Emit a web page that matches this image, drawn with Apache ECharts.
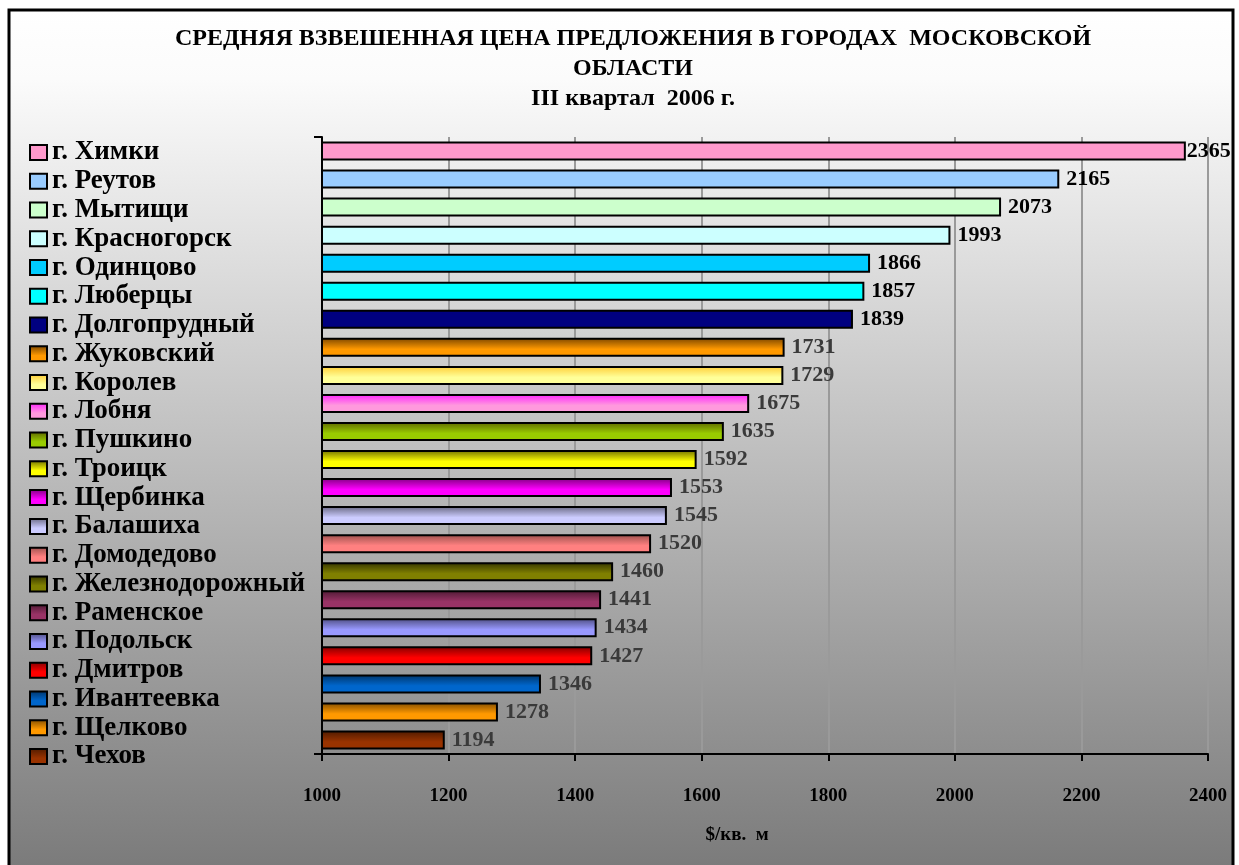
<!DOCTYPE html>
<html><head><meta charset="utf-8">
<script src="https://cdn.jsdelivr.net/npm/echarts@6/dist/echarts.min.js"></script>
<style>html,body{margin:0;padding:0;background:#fff}#c{width:1239px;height:865px}</style>
</head><body><div id="c"></div>
<script>
const cities = ['г. Химки','г. Реутов','г. Мытищи','г. Красногорск','г. Одинцово','г. Люберцы','г. Долгопрудный','г. Жуковский','г. Королев','г. Лобня','г. Пушкино','г. Троицк','г. Щербинка','г. Балашиха','г. Домодедово','г. Железнодорожный','г. Раменское','г. Подольск','г. Дмитров','г. Ивантеевка','г. Щелково','г. Чехов'];
const prices = [2365,2165,2073,1993,1866,1857,1839,1731,1729,1675,1635,1592,1553,1545,1520,1460,1441,1434,1427,1346,1278,1194];
// [top colour, main colour]
const barColors = [
  ['#ff99cc','#ff99cc'],['#99ccff','#99ccff'],['#ccffcc','#ccffcc'],['#ccffff','#ccffff'],
  ['#00ccff','#00ccff'],['#00ffff','#00ffff'],['#000080','#000080'],
  ['#7a4500','#ff9900'],['#ffcc33','#ffff99'],['#ff22ff','#ff99dd'],['#5e6600','#99cc00'],
  ['#6e6e00','#ffff00'],['#800080','#ff00ff'],['#666680','#ccccff'],['#99504c','#ff8080'],
  ['#333300','#808000'],['#4d1a33','#993366'],['#4d4d80','#9999ff'],['#800000','#ff0000'],
  ['#003366','#0066cc'],['#804c00','#ff9900'],['#4d1a00','#993300']
];
const xTicks = {min:1000, max:2400, step:200};
const titleText = 'СРЕДНЯЯ ВЗВЕШЕННАЯ ЦЕНА ПРЕДЛОЖЕНИЯ В ГОРОДАХ  МОСКОВСКОЙ\nОБЛАСТИ\nIII квартал  2006 г.';
const axisName = '$/кв.  м';

const FONT = '"Liberation Serif","Times New Roman",serif';
const chart = echarts.init(document.getElementById('c'));
function fill(i){
  const [a,b] = barColors[i];
  if (a===b) return a;
  return new echarts.graphic.LinearGradient(0,0,0,1,[{offset:0,color:a},{offset:0.6,color:b},{offset:1,color:b}]);
}
const series = cities.map((c,i)=>({
  type:'bar', name:c, barWidth:19, barGap:'-100%',
  itemStyle:{color:fill(i), borderColor:'#000', borderWidth:2},
  label:{show:true, position:'right', distance: i===0?1:7, formatter:'{c}',
    fontFamily:FONT, fontWeight:'bold', fontSize:22, color: i<7?'#000':'#3a3a3a'},
  data: cities.map((_,j)=> j===i ? prices[i] : '-')
}));
chart.setOption({
  animation:false,
  graphic:[{type:'rect', z:-100, shape:{x:9,y:10,width:1224,height:880},
    style:{fill:new echarts.graphic.LinearGradient(0,0,0,1,[{offset:0,color:'#ffffff'},{offset:0.08,color:'#fbfbfb'},{offset:1,color:'#777777'}]),
      stroke:'#000', lineWidth:3}}],
  title:{text:titleText, left:628, top:19, textAlign:'center',
    textStyle:{fontFamily:FONT, fontWeight:'bold', fontSize:24, lineHeight:30, color:'#000'}},
  legend:{orient:'vertical', left:29, top:139, padding:0, itemWidth:17, itemHeight:15, itemGap:1.76,
    icon:'rect', data:cities,
    textStyle:{fontFamily:FONT, fontWeight:'bold', fontSize:27, color:'#000'}},
  grid:{left:322, right:31, top:137, height:617},
  xAxis:{type:'value', min:xTicks.min, max:xTicks.max, interval:xTicks.step,
    name:axisName, nameLocation:'middle', nameGap:72,
    nameTextStyle:{fontFamily:FONT, fontWeight:'bold', fontSize:19, color:'#000', padding:[0,56,0,0]},
    axisLine:{show:true, lineStyle:{color:'#000', width:2}},
    axisTick:{show:true, length:7, lineStyle:{color:'#000', width:2}},
    axisLabel:{margin:33, fontFamily:FONT, fontWeight:'bold', fontSize:19, color:'#000', formatter:(v)=>String(v)},
    splitLine:{show:true, lineStyle:{color:'#9a9a9a', width:2}}},
  yAxis:{type:'category', data:cities, inverse:true,
    axisLine:{show:true, lineStyle:{color:'#000', width:2}},
    axisTick:{show:true, length:8, interval:(i)=> i===0, lineStyle:{color:'#000', width:2}},
    axisLabel:{show:false}, splitLine:{show:false}},
  series
});
</script></body></html>
